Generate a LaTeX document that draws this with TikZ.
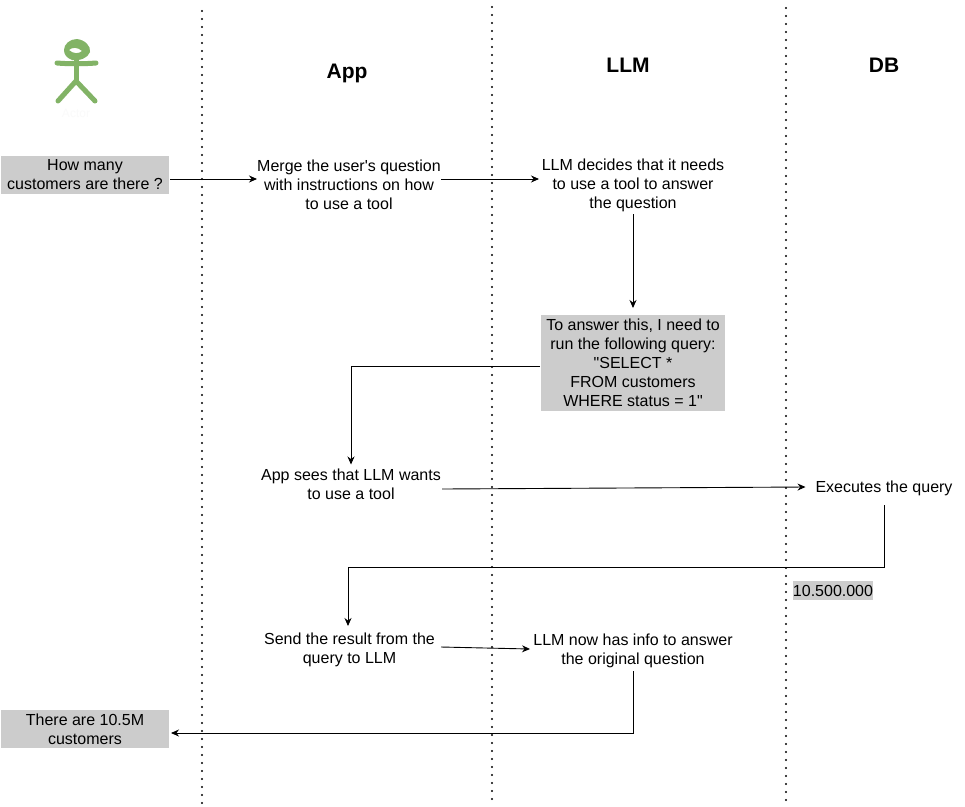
\documentclass[tikz,border=0pt]{standalone}
\usepackage{fontspec}
\setmainfont[Ligatures=TeXOff]{Liberation Sans}
\usetikzlibrary{arrows.meta}
\definecolor{boxgray}{HTML}{CCCCCC}
\definecolor{actorgreen}{HTML}{82B366}
\tikzset{
  x=1pt,y=-1pt,
  lane/.style={line width=2.1pt,line cap=round,dash pattern=on 0pt off 8pt,black},
  txt/.style={font=\fontsize{16}{19}\selectfont,align=center,inner sep=0pt,outer sep=0pt,text=black},
  grayb/.style={txt,fill=boxgray,minimum width=168pt,minimum height=38pt},
  title/.style={font=\bfseries\fontsize{21}{24}\selectfont,inner sep=0pt},
  conn/.style={line width=0.9pt,-{Stealth[length=8pt,width=7pt]},black},
  actorline/.style={line width=5pt,line cap=round,line join=round,actorgreen}
}
\begin{document}
\begin{tikzpicture}
\useasboundingbox (0,0) rectangle (965,806);
\fill[white] (0,0) rectangle (965,806);
% swimlane separators
\coordinate (l1t) at (202,11); \coordinate (l1b) at (202,805);
\coordinate (l2t) at (492,7);  \coordinate (l2b) at (492,805);
\coordinate (l3t) at (786,8);  \coordinate (l3b) at (786,805);
\draw[lane] (l1t) -- (l1b);
\draw[lane] (l2t) -- (l2b);
\draw[lane] (l3t) -- (l3b);
% actor
\fill[actorgreen,even odd rule] (64,50) .. controls (64,44) and (70,39) .. (77,39)
  .. controls (85,40) and (91,46) .. (90,52)
  .. controls (88,58) and (80,61) .. (72,60)
  .. controls (67,58) and (64,55) .. (64,50) -- cycle
  (69,50) .. controls (72,47) and (78,47) .. (82,51)
  .. controls (79,54) and (73,54) .. (69,50) -- cycle;
\draw[actorline] (76,58) -- (76,81);
\draw[actorline] (57,63) .. controls (68,64) and (84,64) .. (96,63);
\draw[actorline] (58,101) -- (76,81) -- (95,101);
\node[font=\fontsize{12}{14}\selectfont,text=black!2,inner sep=0pt] (actorlabel) at (76,113) {Actor};
% titles
\node[title,anchor=base] (tapp) at (347,78) {App};
\node[title,anchor=base] (tllm) at (628,72) {LLM};
\node[title,anchor=base] (tdb) at (884,72) {DB};
% nodes
\node[grayb] (q) at (85,175) {How many\\customers are there ?};
\node[txt,minimum width=184pt,minimum height=58pt] (merge) at (349,185.2) {Merge the user's question\\with instructions on how\\to use a tool};
\node[txt,minimum width=184pt,minimum height=58pt] (decide) at (633,185.2) {LLM decides that it needs\\to use a tool to answer\\the question};
\node[txt,fill=boxgray,minimum width=184pt,minimum height=96pt] (query) at (633,363) {To answer this, I need to\\run the following query:\\"SELECT *\\FROM customers\\WHERE status = 1"};
\node[txt,minimum width=182pt,minimum height=39pt] (sees) at (351,484) {App sees that LLM wants\\to use a tool};
\node[txt,minimum width=143pt,minimum height=36pt] (exec) at (884,488) {Executes the query};
\node[txt,fill=boxgray,minimum width=80pt,minimum height=19pt] (res) at (833,590.5) {10.500.000};
\node[txt,minimum width=183pt,minimum height=39pt] (send) at (349.5,650) {Send the result from the\\query to LLM};
\node[txt,minimum width=200pt,minimum height=42pt] (now) at (633,651) {LLM now has info to answer\\the original question};
\node[grayb] (ans) at (85,729) {There are 10.5M\\customers};
% connectors
\draw[conn] ([shift={(1,4)}]q.east) -- ([yshift=6.2]merge.west);
\draw[conn] ([yshift=6.2]merge.east) -- ([shift={(-2,-6.2)}]decide.west);
\draw[conn] (decide.south) -- ([yshift=7]query.north);
\draw[conn] ([shift={(-1,3)}]query.west) -| (sees.north);
\draw[conn] ([yshift=-5]sees.east) -- ([shift={(-7,-1)}]exec.west);
\draw[conn] ([yshift=1]exec.south) |- (348,567) -- ([shift={(-1.5,-4.5)}]send.north);
\draw[conn] ([yshift=3]send.east) -- ([shift={(-3,-2)}]now.west);
\draw[conn] ([yshift=1]now.south) |- ([shift={(2,4)}]ans.east);
\end{tikzpicture}
\end{document}
